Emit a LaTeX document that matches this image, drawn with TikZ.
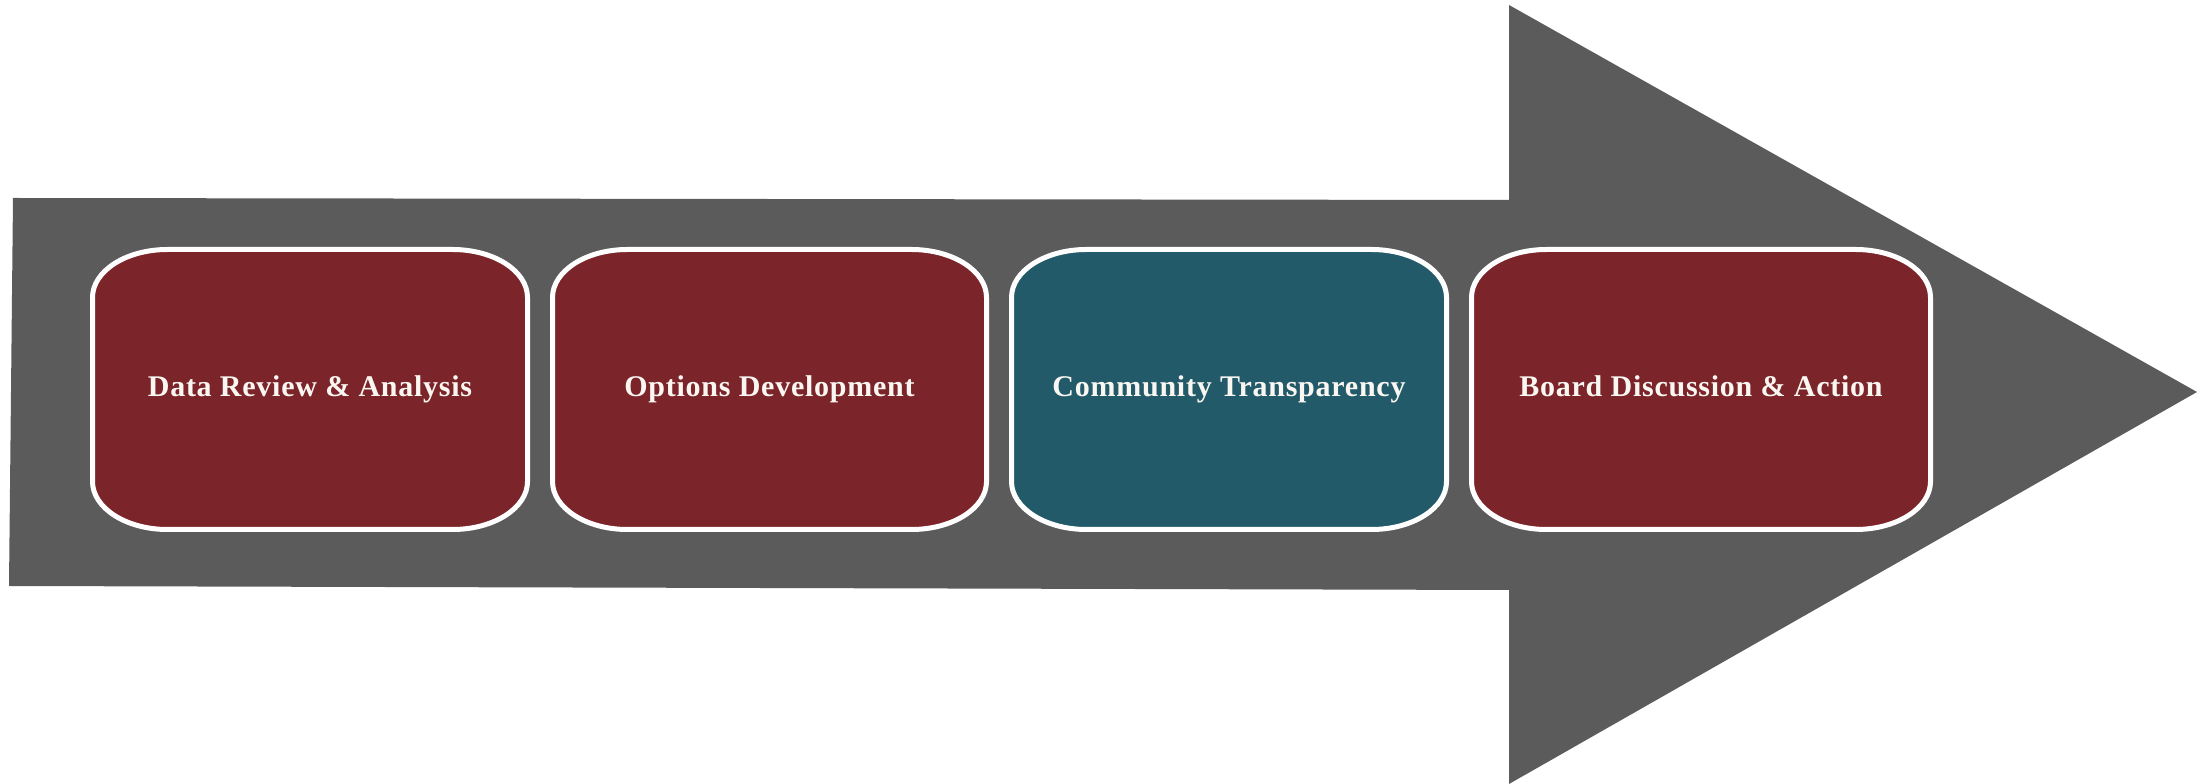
\documentclass[tikz,border=0pt]{standalone}
\usepackage{fontspec}
\setmainfont{Liberation Serif}
\newfontfamily\labelfont[LetterSpace=2.5]{Liberation Serif}
\definecolor{arrowgray}{HTML}{5A5B5A}
\definecolor{maroon}{HTML}{7B2429}
\definecolor{teal}{HTML}{225A69}
\definecolor{txtwhite}{HTML}{FAF7F2}
\newcommand\stagebox[4]{% name, xl, xr, color
  \fill[#4,draw=white,line width=5pt]
    ({#2+75},534.5) -- ({#3-75},534.5)
    arc[start angle=90,end angle=0,x radius=75,y radius=48]
    -- (#3,{254.5+48})
    arc[start angle=0,end angle=-90,x radius=75,y radius=48]
    -- ({#2+75},254.5)
    arc[start angle=270,end angle=180,x radius=75,y radius=48]
    -- (#2,{534.5-48})
    arc[start angle=180,end angle=90,x radius=75,y radius=48]
    -- cycle;
  \coordinate (#1c) at ({(#2+#3)/2},387);
}
\tikzset{
  steplabel/.style={anchor=base,text=txtwhite,font=\labelfont\bfseries\fontsize{30}{35}\selectfont,inner sep=0pt}
}
\begin{document}
\begin{tikzpicture}[x=1pt,y=1pt]
\useasboundingbox (0,0) rectangle (2197,784);
\fill[arrowgray] (13,586) -- (1509,584) -- (1509,779) -- (2197,392) -- (1509,0) -- (1509,194) -- (9,198) -- cycle;
\stagebox{s1}{92.5}{527.5}{maroon}
\stagebox{s2}{552.5}{986.5}{maroon}
\stagebox{s3}{1011.5}{1446.5}{teal}
\stagebox{s4}{1471.5}{1930.5}{maroon}
\node[steplabel] (t1) at (s1c) {Data Review \& Analysis};
\node[steplabel] (t2) at (s2c) {Options Development};
\node[steplabel] (t3) at (s3c) {Community Transparency};
\node[steplabel] (t4) at (s4c) {Board Discussion \& Action};
\end{tikzpicture}
\end{document}
